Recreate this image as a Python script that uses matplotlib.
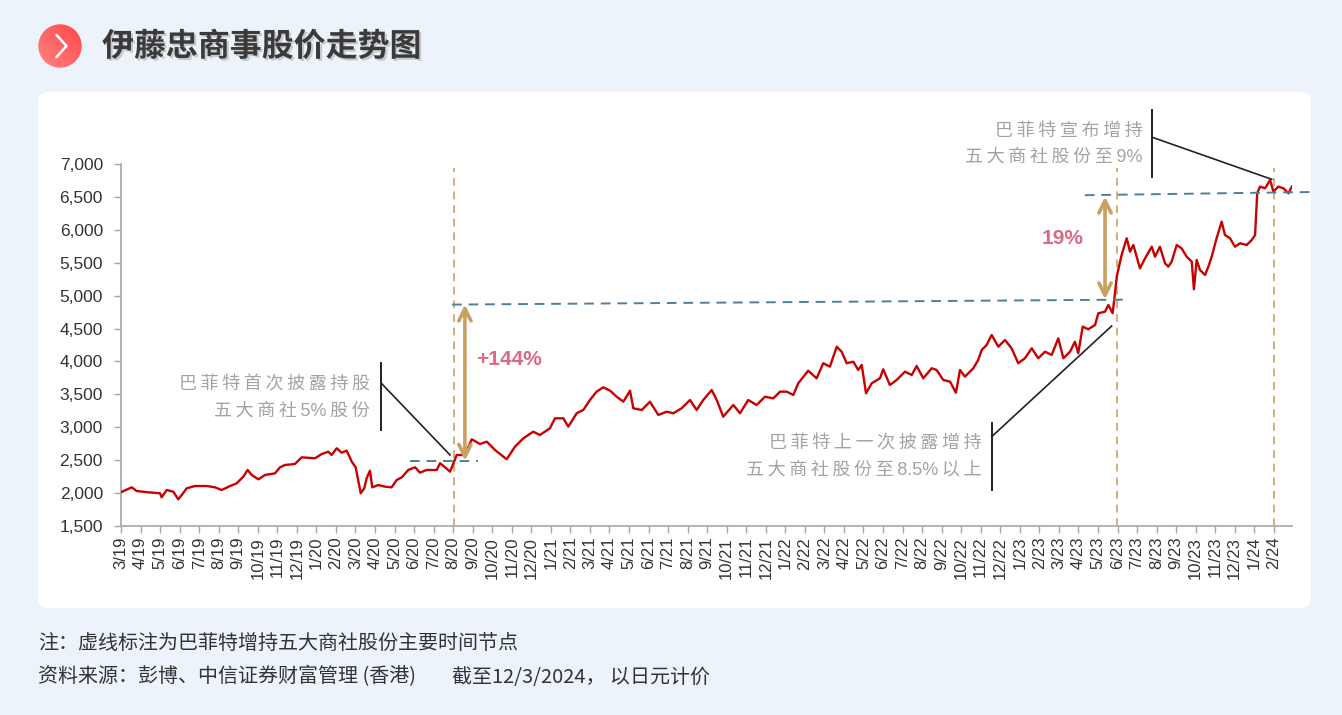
import matplotlib
matplotlib.use("Agg")
import matplotlib.pyplot as plt
import numpy as np
from matplotlib.patches import FancyBboxPatch, Circle
import matplotlib.patheffects as pe
from matplotlib.colors import LinearSegmentedColormap

# ---------------- data ----------------
# time in months since 12 Mar 2019 (tick k = month k after 3/19)
t_month = [0.00, 0.55, 0.80, 1.40, 2.00, 2.08, 2.34, 2.68, 2.93, 3.11, 3.36, 3.79, 4.39, 4.81, 5.15,
           5.58, 5.92, 6.26, 6.48, 6.69, 7.03, 7.37, 7.88, 8.14, 8.39, 8.90, 9.25, 9.93, 10.27, 10.61,
           10.78, 11.04, 11.29, 11.55, 11.81, 12.01, 12.14, 12.27, 12.45, 12.57, 12.74, 12.86, 13.17,
           13.51, 13.85, 14.11, 14.37, 14.70, 15.05, 15.30, 15.64, 16.16, 16.33, 16.58, 16.84, 17.18,
           17.60, 17.95, 18.37, 18.72, 19.14, 19.74, 20.16, 20.59, 21.10, 21.44, 21.95, 22.21, 22.64,
           22.89, 23.32, 23.66, 24.00, 24.34, 24.68, 25.03, 25.37, 25.71, 26.05, 26.22, 26.65, 27.07,
           27.50, 27.93, 28.27, 28.69, 29.12, 29.46, 29.80, 30.23, 30.49, 30.82, 31.34, 31.68, 32.10,
           32.53, 32.96, 33.38, 33.73, 34.07, 34.41, 34.66, 35.17, 35.60, 35.94, 36.28, 36.63, 36.88,
           37.14, 37.48, 37.73, 37.91, 38.13, 38.42, 38.84, 39.01, 39.35, 39.70, 40.12, 40.47, 40.72,
           41.06, 41.49, 41.74, 42.08, 42.43, 42.73, 42.94, 43.19, 43.62, 43.87, 44.05, 44.30, 44.56,
           44.90, 45.24, 45.58, 45.92, 46.26, 46.61, 46.94, 47.29, 47.63, 47.97, 48.23, 48.57, 48.82,
           48.99, 49.22, 49.50, 49.85, 50.02, 50.36, 50.53, 50.75, 50.87, 50.96, 51.21, 51.47, 51.64,
           51.81, 51.98, 52.15, 52.41, 52.75, 52.92, 53.17, 53.43, 53.60, 53.77, 54.03, 54.28, 54.54,
           54.80, 54.91, 55.05, 55.22, 55.48, 55.65, 55.82, 56.07, 56.33, 56.50, 56.76, 57.01, 57.27,
           57.61, 57.87, 58.04, 58.15, 58.29, 58.55, 58.81, 58.98, 59.23, 59.49, 59.75, 59.92]
price = [2010, 2084, 2028, 2008, 1993, 1932, 2043, 2017, 1902, 1967, 2069, 2104, 2104, 2084, 2043,
         2104, 2145, 2246, 2348, 2272, 2206, 2272, 2297, 2389, 2424, 2439, 2541, 2526, 2591, 2626,
         2576, 2678, 2611, 2642, 2474, 2389, 2195, 1993, 2069, 2221, 2337, 2084, 2119,
         2094, 2084, 2195, 2236, 2348, 2389, 2307, 2348, 2348, 2450, 2389, 2322, 2576,
         2576, 2815, 2743, 2779, 2652, 2511, 2702, 2830, 2931, 2880, 2982, 3134, 3134,
         3007, 3211, 3261, 3413, 3540, 3606, 3555, 3463, 3387, 3555, 3287, 3261, 3387,
         3185, 3235, 3211, 3287, 3413, 3261, 3413, 3565, 3413, 3159, 3337, 3211, 3413,
         3337, 3463, 3438, 3540, 3540, 3489, 3667, 3859, 3743, 3972, 3920, 4224, 4148,
         3972, 3996, 3870, 3946, 3515, 3667, 3743, 3880, 3641, 3718, 3844, 3794, 3931,
         3743, 3896, 3870, 3718, 3692, 3524, 3870, 3768, 3896, 4022, 4174, 4250, 4402,
         4224, 4326, 4200, 3972, 4048, 4200, 4048, 4148, 4098, 4352, 4048, 4148, 4300,
         4124, 4529, 4489, 4555, 4733, 4757, 4859, 4733, 5038, 5290, 5620, 5874, 5670,
         5772, 5594, 5417, 5569, 5746, 5594, 5746, 5494, 5442, 5518, 5772, 5721, 5594,
         5518, 5098, 5544, 5392, 5316, 5442, 5594, 5874, 6127, 5924, 5874, 5746, 5798,
         5772, 5848, 5924, 6559, 6660, 6635, 6762, 6584, 6660, 6635, 6559, 6660]

tick_labels = (["%d/19" % m for m in range(3, 13)] +
               ["%d/%02d" % (m, y) for y in (20, 21, 22, 23) for m in range(1, 13)] +
               ["1/24", "2/24"])
y_ticks = [1500, 2000, 2500, 3000, 3500, 4000, 4500, 5000, 5500, 6000, 6500, 7000]

event_months = [17.04, 50.96, 59.0]          # Buffett disclosure dates
level_low = [14.79, 18.27, 2489, 2489]       # x0, x1, y0, y1
level_mid = [16.94, 51.28, 4865, 4940]
level_high = [49.33, 60.85, 6530, 6578]
arrow1 = [17.6, 2489, 4865]
arrow2 = [50.36, 4946, 6507]
gain1_label = "+144%"
gain2_label = "19%"

notes = [
    (["巴菲特首次披露持股", "五大商社5%股份"], 12.74, [3641, 3246], 13.31, [3976, 2957], [3672, 16.84, 2576]),
    (["巴菲特上一次披露增持", "五大商社股份至8.5%以上"], 44.06, [2744, 2348], 44.56, [3063, 2043], [2855, 50.70, 4539]),
    (["巴菲特宣布增持", "五大商社股份至9%"], 52.30, [7497, 7116], 52.76, [7827, 6812], [7413, 58.89, 6772]),
]

title = "伊藤忠商事股价走势图"
footer1 = "注：虚线标注为巴菲特增持五大商社股份主要时间节点"
footer2a = "资料来源：彭博、中信证券财富管理 (香港)"
footer2b = "截至12/3/2024， 以日元计价"


def spaced(s):
    out = s[0]
    for a, b in zip(s[:-1], s[1:]):
        if not (a.isascii() and b.isascii()):
            out += '\u2009'
        out += b
    return out


# ---------------- figure ----------------
CJK = ['Noto Sans CJK SC', 'DejaVu Sans']
NOTE_FONT = ['Liberation Sans', 'Noto Sans CJK SC', 'DejaVu Sans']
W, H = 1342, 715
fig = plt.figure(figsize=(W / 100, H / 100), dpi=100)
fig.patch.set_facecolor('#EDF3FB')

bg = fig.add_axes([0, 0, 1, 1], zorder=0)
bg.axis('off')
panel = FancyBboxPatch((38, 92), 1273, 516, boxstyle="round,pad=0,rounding_size=10",
                       facecolor='white', edgecolor='none')
bg.add_patch(panel)

# red gradient circle icon
cmap = LinearSegmentedColormap.from_list('rd', ['#FF8585', '#FF4646'])
gx, gy = np.meshgrid(np.linspace(0, 1, 60), np.linspace(0, 1, 60))
grad = (gx + (1 - gy)) / 2
im = bg.imshow(grad, cmap=cmap, extent=(38, 82, 68, 24), origin='upper', aspect='auto', zorder=2)
circ = Circle((60, 46), 21.7, transform=bg.transData, facecolor='none', edgecolor='none')
bg.add_patch(circ)
im.set_clip_path(circ)
bg.plot([56.5, 66.5, 56.5], [35, 46, 57], color='white', lw=1.8, solid_capstyle='round', zorder=3)
bg.set_xlim(0, W)
bg.set_ylim(H, 0)

bg.text(102, 47, title, family=CJK, fontsize=23, fontweight='bold', color='#3A3A3A',
        va='center', ha='left',
        path_effects=[pe.withSimplePatchShadow(offset=(1.5, -1.5), shadow_rgbFace='#9A9A9A', alpha=0.45)])
bg.text(38, 643, footer1, family=CJK, fontsize=14.4, color='#333333', va='center', ha='left')
bg.text(38, 677, footer2a, family=CJK, fontsize=14.4, color='#333333', va='center', ha='left')
bg.text(452, 677, footer2b, family=CJK, fontsize=14.4, color='#333333', va='center', ha='left')

# main axes
ax = fig.add_axes([121 / W, 1 - 525.7 / H, 1171 / W, 361.4 / H], zorder=1)
ax.patch.set_alpha(0)
ax.plot(t_month, price, color='#C80000', lw=1.7, zorder=4, solid_joinstyle='round')
ax.set_xlim(0, 59.93)
ax.set_ylim(1500, 7000)

ax.set_xticks(range(len(tick_labels)))
ax.set_xticklabels(tick_labels, rotation=90, family='Liberation Sans', fontsize=12, color='#333333')
ax.set_yticks(y_ticks)
ax.set_yticklabels(["{:,}".format(v) for v in y_ticks], family='Liberation Sans', fontsize=12.5, color='#333333')
for s in ('top', 'right'):
    ax.spines[s].set_visible(False)
for s in ('left', 'bottom'):
    ax.spines[s].set_color('#A6A6A6')
    ax.spines[s].set_linewidth(1.2)
ax.tick_params(axis='both', direction='out', length=5, width=1, color='#A6A6A6')
ax.tick_params(axis='y', pad=8)
ax.tick_params(axis='x', pad=3)

# event verticals
for m in event_months:
    ax.plot([m, m], [1500, 6944], color='#D6AE74', lw=1.4, ls=(0, (4, 3)), zorder=3, clip_on=False)

# level dashed lines
for lv in (level_low, level_mid, level_high):
    ax.plot(lv[0:2], lv[2:4], color='#4F7F99', lw=1.4, ls=(0, (5, 3.5)), zorder=5, clip_on=False)

# gain arrows
for a in (arrow1, arrow2):
    ax.annotate('', xy=(a[0], a[2]), xytext=(a[0], a[1]),
                arrowprops=dict(arrowstyle='<->', color='#C9A062', lw=2.6, mutation_scale=22,
                                shrinkA=0, shrinkB=0), zorder=6)
ax.text(18.2, 4022, gain1_label, family='Liberation Sans', fontsize=15, fontweight='bold',
        color='#DB6B84', ha='left', va='center')
ax.text(49.25, 5871, gain2_label, family='Liberation Sans', fontsize=15, fontweight='bold',
        color='#DB6B84', ha='right', va='center')

# callouts
for lines, xr, ys, xb, yb, lead in notes:
    for line, yy in zip(lines, ys):
        ax.text(xr, yy, spaced(line), family=NOTE_FONT, fontsize=13, color='#A3A3A3',
                ha='right', va='center', clip_on=False)
    ax.plot([xb, xb], yb, color='#222222', lw=1.4, clip_on=False, zorder=6)
    ax.plot([xb, lead[1]], [lead[0], lead[2]], color='#222222', lw=1.2, clip_on=False, zorder=6)

fig.savefig('out.png', dpi=100)
